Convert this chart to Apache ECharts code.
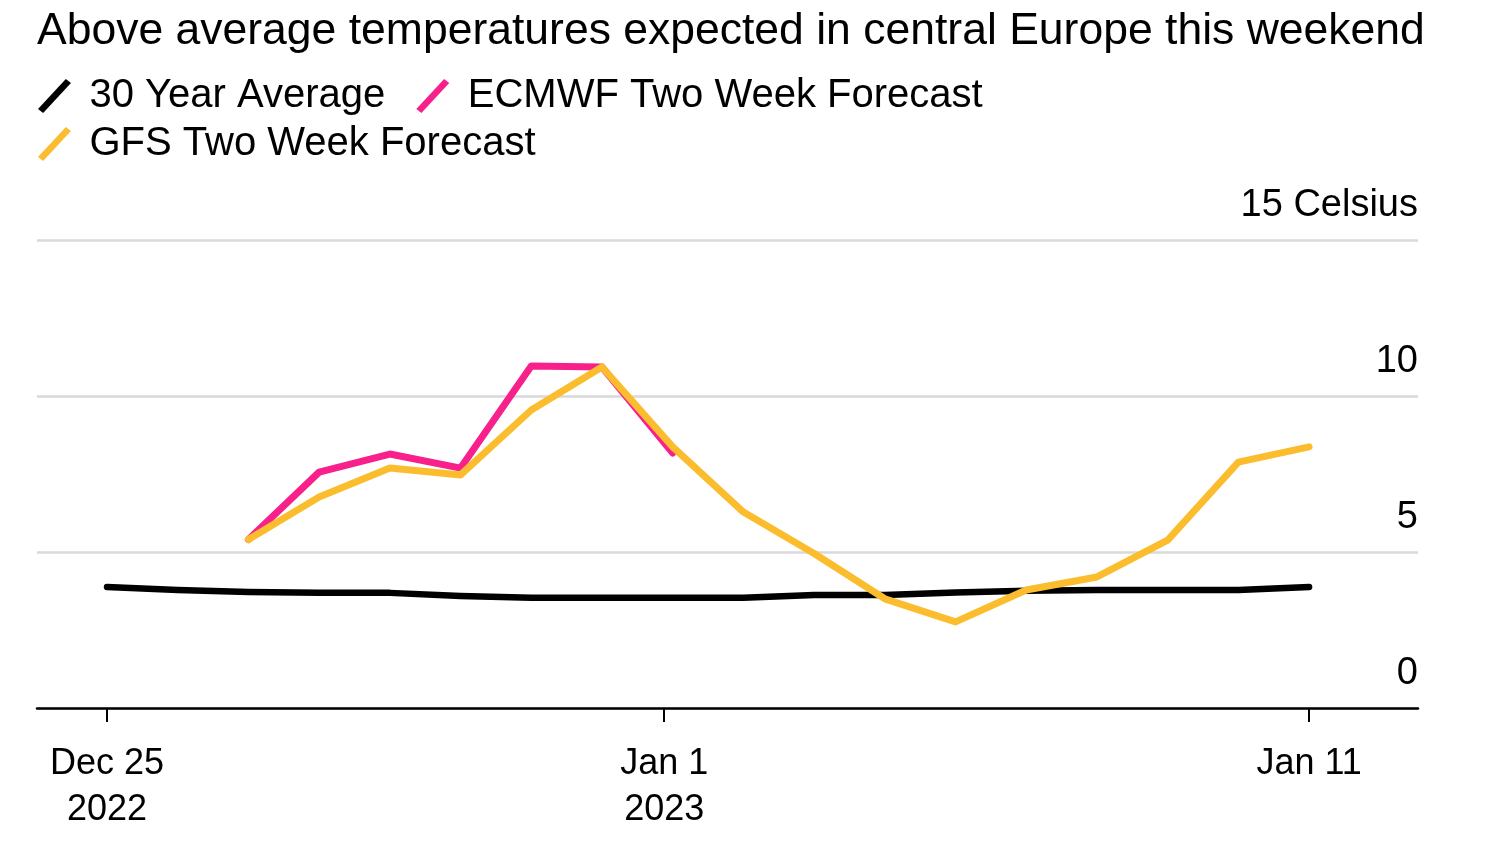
<!DOCTYPE html>
<html>
<head>
<meta charset="utf-8">
<script src="https://cdn.jsdelivr.net/npm/echarts@6/dist/echarts.min.js"></script>
<style>
  html, body { margin: 0; padding: 0; background: #fff; }
  #chart { width: 1500px; height: 850px; }
</style>
</head>
<body>
<div id="chart"></div>
<script>
// Day index: 0 = Dec 25 2022 ... 17 = Jan 11 2023
var days = [0, 1, 2, 3, 4, 5, 6, 7, 8, 9, 10, 11, 12, 13, 14, 15, 16, 17];
var avg30 = [3.88, 3.78, 3.72, 3.69, 3.69, 3.59, 3.53, 3.53, 3.53, 3.53, 3.62, 3.62, 3.70, 3.76, 3.78, 3.78, 3.78, 3.88];
var ecmwfDays = [2, 3, 4, 5, 6, 7, 8];
var ecmwf = [5.40, 7.56, 8.14, 7.69, 10.96, 10.93, 8.17];
var gfsDays = [2, 3, 4, 5, 6, 7, 8, 9, 10, 11, 12, 13, 14, 15, 16, 17];
var gfs = [5.40, 6.76, 7.69, 7.47, 9.55, 10.93, 8.37, 6.28, 4.95, 3.50, 2.76, 3.78, 4.20, 5.38, 7.88, 8.37];
var xTickPositions = [0, 7.88, 17];
var xTickLabels = ['Dec 25\n2022', 'Jan 1\n2023', 'Jan 11'];
var yTicks = [0, 5, 10, 15];
var yUnit = 'Celsius';
var seriesNames = ['30 Year Average', 'ECMWF Two Week Forecast', 'GFS Two Week Forecast'];
var titleText = 'Above average temperatures expected in central Europe this weekend';

function pairs(xs, ys) { return xs.map(function (x, i) { return [x, ys[i]]; }); }

var FONT = '"Liberation Sans", Arial, Helvetica, sans-serif';
var slash = 'path://M0,29 L27,0 L32,4 L5,33 Z';

var chart = echarts.init(document.getElementById('chart'), null, { renderer: 'canvas' });
chart.setOption({
  backgroundColor: '#ffffff',
  animation: false,
  textStyle: { fontFamily: FONT },
  title: {
    text: titleText,
    left: 32, top: 4,
    textStyle: { fontFamily: FONT, fontSize: 44.5, fontWeight: 'normal', color: '#000' }
  },
  legend: [{
    data: [seriesNames[0], seriesNames[1]],
    left: 33, top: 71,
    icon: slash, itemWidth: 34, itemHeight: 34, itemGap: 31,
    textStyle: { fontFamily: FONT, fontSize: 40, color: '#000', padding: [0, 0, 0, 13] },
    selectedMode: false
  }, {
    data: [seriesNames[2]],
    left: 33, top: 119,
    icon: slash, itemWidth: 34, itemHeight: 34, itemGap: 31,
    textStyle: { fontFamily: FONT, fontSize: 40, color: '#000', padding: [0, 0, 0, 13] },
    selectedMode: false
  }],
  grid: { left: 37, right: 82, top: 240, bottom: 142, containLabel: false },
  xAxis: {
    type: 'value', min: -0.99, max: 18.54,
    axisLine: { show: true, lineStyle: { color: '#000', width: 2.5 } },
    axisTick: { show: true, customValues: xTickPositions, length: 14, lineStyle: { color: '#000', width: 2 } },
    axisLabel: {
      customValues: xTickPositions,
      formatter: function (v) {
        var i = xTickPositions.indexOf(v);
        return i >= 0 ? xTickLabels[i] : '';
      },
      fontFamily: FONT, fontSize: 36, lineHeight: 46, color: '#000', margin: 33
    },
    splitLine: { show: false }
  },
  yAxis: {
    type: 'value', min: 0, max: 15, interval: 5, position: 'right',
    axisLine: { show: false }, axisTick: { show: false },
    splitLine: { show: true, lineStyle: { color: '#d9d9dc', width: 2.5 } },
    axisLabel: {
      inside: true, margin: 0,
      formatter: function (v) { return v === yTicks[yTicks.length - 1] ? v + ' ' + yUnit : String(v); },
      fontFamily: FONT, fontSize: 38, lineHeight: 38, color: '#000',
      verticalAlign: 'bottom', padding: [0, 0, 15, 0]
    }
  },
  series: [{
    name: seriesNames[0], type: 'line', data: pairs(days, avg30),
    showSymbol: false, symbol: 'none', color: '#000000', z: 2,
    lineStyle: { color: '#000000', width: 6.5, cap: 'round', join: 'round' }
  }, {
    name: seriesNames[1], type: 'line', data: pairs(ecmwfDays, ecmwf),
    showSymbol: false, symbol: 'none', color: '#f8218c', z: 3,
    lineStyle: { color: '#f8218c', width: 7, cap: 'round', join: 'round' }
  }, {
    name: seriesNames[2], type: 'line', data: pairs(gfsDays, gfs),
    showSymbol: false, symbol: 'none', color: '#fbbd2e', z: 4,
    lineStyle: { color: '#fbbd2e', width: 7, cap: 'round', join: 'round' }
  }]
});
</script>
</body>
</html>
